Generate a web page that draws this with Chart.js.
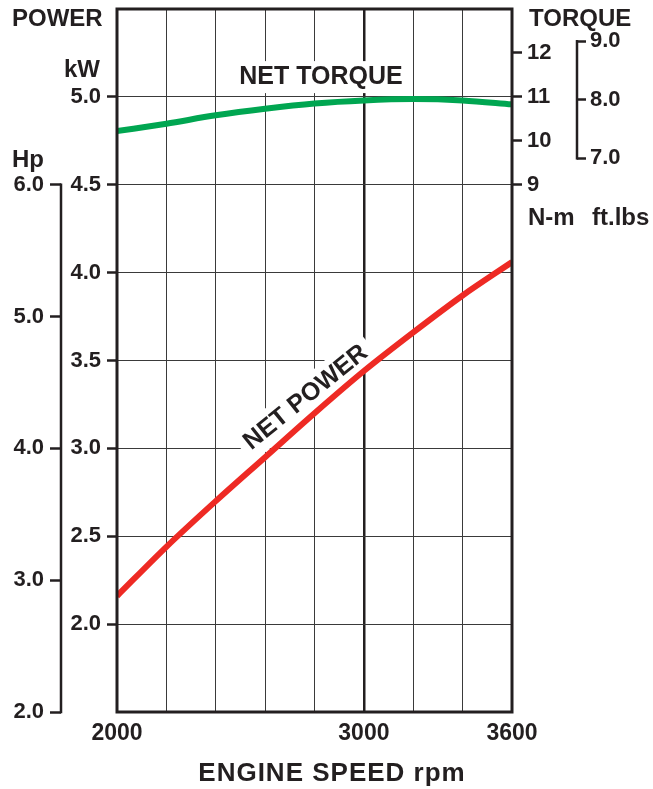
<!DOCTYPE html>
<html lang="en">
<head>
<meta charset="UTF-8">
<title>Net Power / Net Torque</title>
<script src="https://cdn.jsdelivr.net/npm/chart.js"></script>
<style>
  html, body { margin: 0; padding: 0; background: #fff; }
  #wrap { position: relative; width: 653px; height: 789px; }
</style>
</head>
<body>
<div id="wrap"><canvas id="chart"></canvas></div>
<script>
// data
const rpm = [2000, 2200, 2400, 2600, 2800, 3000, 3200, 3400, 3600];
const netPowerKw = [2.16, 2.44, 2.70, 2.95, 3.20, 3.44, 3.66, 3.87, 4.06];
const netTorqueNm = [10.22, 10.39, 10.58, 10.73, 10.85, 10.92, 10.95, 10.92, 10.83];

const kwTicks = [2.0, 2.5, 3.0, 3.5, 4.0, 4.5, 5.0];
const hpTicks = [2.0, 3.0, 4.0, 5.0, 6.0];
const nmTicks = [9, 10, 11, 12];
const ftlbTicks = [7.0, 8.0, 9.0];
const rpmLabels = [2000, 3000, 3600];

const INK = '#231f20';
const FONT = '"Liberation Sans", Arial, Helvetica, sans-serif';

function fixedTicks(list) {
  return function(scale) {
    scale.ticks = list.map(v => ({ value: v }));
  };
}
function fitWidth(w) {
  return function(scale) {
    scale.width = w;
    scale.paddingTop = 0;
    scale.paddingBottom = 0;
  };
}

function text(ctx, str, x, y, size, align) {
  ctx.font = 'bold ' + size + 'px ' + FONT;
  ctx.fillStyle = INK;
  ctx.textAlign = align || 'left';
  ctx.textBaseline = 'middle';
  ctx.fillText(str, x, y);
}

const decor = {
  id: 'decor',
  beforeDatasetsDraw(chart) {
    const ctx = chart.ctx;
    const s = chart.scales;
    ctx.save();
    // NET TORQUE label on white
    let x = s.x.getPixelForValue(2826), y = s.nm.getPixelForValue(11.45);
    ctx.font = 'bold 25px ' + FONT;
    let w = ctx.measureText('NET TORQUE').width;
    ctx.fillStyle = '#fff';
    ctx.fillRect(x - w / 2 - 6, y - 16, w + 12, 32);
    text(ctx, 'NET TORQUE', x, y, 25, 'center');

    // NET POWER label, rotated along the curve
    x = s.x.getPixelForValue(2765);
    y = s.kw.getPixelForValue(3.29);
    ctx.translate(x, y);
    ctx.rotate(-39 * Math.PI / 180);
    ctx.font = 'bold 25px ' + FONT;
    w = ctx.measureText('NET POWER').width;
    ctx.fillStyle = '#fff';
    ctx.fillRect(-w / 2 - 7, -17, w + 14, 34);
    text(ctx, 'NET POWER', 0, 0, 25, 'center');
    ctx.restore();
  },
  afterDatasetsDraw(chart) {
    const ctx = chart.ctx;
    const a = chart.chartArea;
    const s = chart.scales;
    ctx.save();
    ctx.strokeStyle = INK;
    ctx.lineWidth = 3;
    ctx.strokeRect(a.left, a.top, a.right - a.left, a.bottom - a.top);

    // Hp bracket
    ctx.lineWidth = 2.5;
    ctx.beginPath();
    ctx.moveTo(s.hp.right, s.hp.getPixelForValue(6.0) - 1.2);
    ctx.lineTo(s.hp.right, s.hp.getPixelForValue(2.0) + 1.2);
    ctx.stroke();
    // ft.lbs bracket
    ctx.beginPath();
    ctx.moveTo(s.ft.left, s.ft.getPixelForValue(9.0) - 1.2);
    ctx.lineTo(s.ft.left, s.ft.getPixelForValue(7.0) + 1.2);
    ctx.stroke();

    text(ctx, 'POWER', 12, 19, 24);
    text(ctx, 'kW', s.kw.right - 17, s.kw.getPixelForValue(5.0) - 27, 24, 'right');
    text(ctx, 'Hp', 12, s.hp.getPixelForValue(6.0) - 24, 24);
    text(ctx, 'TORQUE', 529, 19, 24);
    text(ctx, 'N-m', 528, s.nm.getPixelForValue(9) + 34, 24);
    text(ctx, 'ft.lbs', 592, s.nm.getPixelForValue(9) + 34, 24);

    ctx.font = 'bold 26px ' + FONT;
    if ('letterSpacing' in ctx) ctx.letterSpacing = '1px';
    text(ctx, 'ENGINE SPEED rpm', 332, 774, 26, 'center');
    ctx.restore();
  }
};

const tickFont = { family: FONT, size: 22, weight: 'bold' };

new Chart(document.getElementById('chart'), {
  type: 'line',
  data: {
    labels: rpm,
    datasets: [
      {
        label: 'NET TORQUE',
        data: rpm.map((r, i) => ({ x: r, y: netTorqueNm[i] })),
        yAxisID: 'nm',
        borderColor: '#00a651',
        borderWidth: 6,
        pointRadius: 0,
        cubicInterpolationMode: 'monotone'
      },
      {
        label: 'NET POWER',
        data: rpm.map((r, i) => ({ x: r, y: netPowerKw[i] })),
        yAxisID: 'kw',
        borderColor: '#ee2a24',
        borderWidth: 6,
        pointRadius: 0,
        cubicInterpolationMode: 'monotone'
      }
    ]
  },
  options: {
    responsive: true,
    maintainAspectRatio: false,
    animation: false,
    layout: { padding: { top: 9, left: 0, right: 0, bottom: 0 } },
    plugins: { legend: { display: false }, tooltip: { enabled: false } },
    scales: {
      x: {
        type: 'linear',
        min: 2000,
        max: 3600,
        border: { display: false },
        grid: {
          color: ctx => ctx.tick && ctx.tick.value === 3000 ? INK : '#3a3a3a',
          lineWidth: ctx => ctx.tick && ctx.tick.value === 3000 ? 2.5 : 1,
          drawTicks: false
        },
        ticks: {
          stepSize: 200,
          autoSkip: false,
          maxRotation: 0,
          padding: 8,
          color: INK,
          font: { family: FONT, size: 23, weight: 'bold' },
          callback: v => rpmLabels.includes(v) ? String(v) : ''
        },
        afterFit(scale) { scale.height = 77; }
      },
      hp: {
        position: 'left',
        weight: 2,
        min: 2.0,
        max: 2.0 + 4 * 4 / 3,
        border: { display: false },
        grid: { drawOnChartArea: false, tickLength: 11, tickWidth: 2.5, tickColor: INK },
        ticks: { padding: 6, color: INK, font: tickFont, callback: v => v.toFixed(1) },
        afterBuildTicks: fixedTicks(hpTicks),
        afterFit: fitWidth(61)
      },
      kw: {
        position: 'left',
        weight: 1,
        min: 1.5,
        max: 5.5,
        border: { display: false },
        grid: { color: '#3a3a3a', lineWidth: 1, tickLength: 10, tickWidth: 2.5, tickColor: INK },
        ticks: { padding: 6, color: INK, font: tickFont, callback: v => v.toFixed(1) },
        afterBuildTicks: fixedTicks(kwTicks),
        afterFit: fitWidth(56)
      },
      nm: {
        position: 'right',
        weight: 1,
        min: -3,
        max: 13,
        border: { display: false },
        grid: { drawOnChartArea: false, tickLength: 10, tickWidth: 2.5, tickColor: INK },
        ticks: { padding: 5, color: INK, font: tickFont, callback: v => String(v) },
        afterBuildTicks: fixedTicks(nmTicks),
        afterFit: fitWidth(65)
      },
      ft: {
        position: 'right',
        weight: 2,
        min: -2.45,
        max: 9.55,
        border: { display: false },
        grid: { drawOnChartArea: false, tickLength: 9, tickWidth: 2.5, tickColor: INK },
        ticks: { padding: 4, color: INK, font: tickFont, callback: v => v.toFixed(1) },
        afterBuildTicks: fixedTicks(ftlbTicks),
        afterFit: fitWidth(76)
      }
    }
  },
  plugins: [decor]
});
</script>
</body>
</html>
